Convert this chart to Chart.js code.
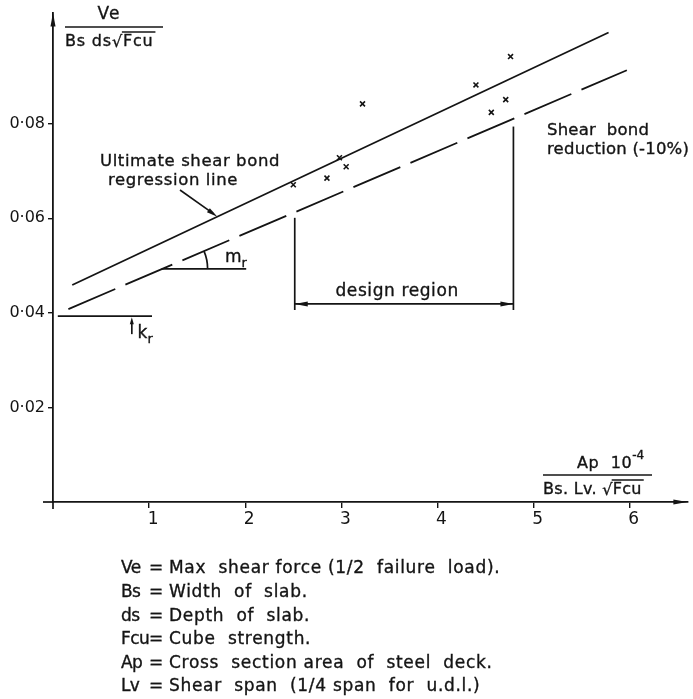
<!DOCTYPE html>
<html>
<head>
<meta charset="utf-8">
<script src="https://cdn.jsdelivr.net/npm/chart.js@4.4.1/dist/chart.umd.min.js"></script>
<style>
  html, body { margin: 0; background: #fff; }
</style>
</head>
<body>
<canvas id="shearbond" width="693" height="699"></canvas>
<script>
// test results (x = Ap/(Bs.Lv.sqrt(Fcu)) * 1e-4, y = Ve/(Bs ds sqrt(Fcu)))
const testX = [2.50, 2.85, 2.98, 3.05, 3.22, 4.40, 4.56, 4.71, 4.76]
const testY = [0.0671, 0.0685, 0.0728, 0.0709, 0.0842, 0.0882, 0.0824, 0.0851, 0.0942]

// ultimate regression line and the -10% reduced line (end points)
const regressX = [0.20, 5.78]
const regressY = [0.0459, 0.0993]
const reducedX = [0.16, 5.97]
const reducedY = [0.0408, 0.0913]

const xTicks = [1, 2, 3, 4, 5, 6]
const yTicks = [0.02, 0.04, 0.06, 0.08]

const designFrom = 2.515
const designTo = 4.79
const krValue = 0.0393

const legendKeys = ['Ve', 'Bs', 'ds', 'Fcu', 'Ap', 'Lv']
const legendText = [
  'Max  shear force (1/2  failure  load).',
  'Width  of  slab.',
  'Depth  of  slab.',
  'Cube  strength.',
  'Cross  section area  of  steel  deck.',
  'Shear  span  (1/4 span  for  u.d.l.)'
]

const FONT = '"DejaVu Sans", sans-serif'
const INK = '#141414'

function pts(xs, ys) {
  return xs.map((x, i) => ({ x: x, y: ys[i] }))
}

function arrowHead(ctx, x, y, ang, len, half) {
  ctx.save()
  ctx.translate(x, y)
  ctx.rotate(ang)
  ctx.beginPath()
  ctx.moveTo(0, 0)
  ctx.lineTo(-len, -half)
  ctx.lineTo(-len, half)
  ctx.closePath()
  ctx.fill()
  ctx.restore()
}

function line(ctx, x1, y1, x2, y2) {
  ctx.beginPath()
  ctx.moveTo(x1, y1)
  ctx.lineTo(x2, y2)
  ctx.stroke()
}

function setFont(ctx, size, spacing) {
  ctx.font = size + 'px ' + FONT
  ctx.letterSpacing = spacing + 'px'
}

// slightly heavier text, like the pen lettering
function txt(ctx, s, x, y) {
  let lw = ctx.lineWidth
  ctx.lineWidth = 0.35
  ctx.fillText(s, x, y)
  ctx.strokeText(s, x, y)
  ctx.lineWidth = lw
}

// text with a subscript, e.g. m_r
function subText(ctx, main, sub, x, y) {
  setFont(ctx, 17, 0)
  ctx.textAlign = 'left'
  ctx.textBaseline = 'middle'
  txt(ctx, main, x, y)
  let w = ctx.measureText(main).width
  setFont(ctx, 13, 0)
  txt(ctx, sub, x + w, y + 6)
}

// text followed by a square root over the second part
function rootText(ctx, before, under, x, y, spacing) {
  setFont(ctx, 16, spacing)
  ctx.textAlign = 'left'
  ctx.textBaseline = 'middle'
  txt(ctx, before, x, y)
  let x1 = x + ctx.measureText(before).width
  txt(ctx, '\u221A', x1, y + 1)
  let x2 = x1 + ctx.measureText('\u221A').width
  txt(ctx, under, x2, y)
  let x3 = x2 + ctx.measureText(under).width
  ctx.lineWidth = 1.4
  line(ctx, x2 - 1, y - 10, x3 + 2, y - 10)
  return x3
}

const drawings = {
  id: 'drawings',
  afterDatasetsDraw(chart) {
    const ctx = chart.ctx
    const xs = chart.scales.x
    const ys = chart.scales.y
    const X = v => xs.getPixelForValue(v)
    const Y = v => ys.getPixelForValue(v)
    const area = chart.chartArea
    ctx.save()
    ctx.strokeStyle = INK
    ctx.fillStyle = INK
    ctx.lineWidth = 1.7

    // axis stubs and arrows
    line(ctx, area.left - 10, area.bottom, area.left, area.bottom)
    line(ctx, area.left, area.bottom, area.left, area.bottom + 7)
    arrowHead(ctx, area.right, area.bottom, 0, 14, 2.5)
    arrowHead(ctx, area.left, area.top, -Math.PI / 2, 14, 2.5)

    // k_r
    ctx.lineWidth = 1.7
    line(ctx, X(0.05), Y(krValue), X(1.03), Y(krValue))
    line(ctx, X(0.82), Y(0.0355), X(0.82), Y(krValue) + 6)
    arrowHead(ctx, X(0.82), Y(krValue) + 1, -Math.PI / 2, 7, 2)
    subText(ctx, 'k', 'r', X(0.88), Y(0.0356))

    // m_r angle
    let cx = X(1.13), cy = Y(0.0493)
    ctx.lineWidth = 1.7
    line(ctx, cx, cy, X(2.01), cy)
    let slope = Math.atan2(Y(reducedY[1]) - Y(reducedY[0]), X(reducedX[1]) - X(reducedX[0]))
    ctx.beginPath()
    ctx.arc(cx, cy, 46, slope, 0)
    ctx.stroke()
    subText(ctx, 'm', 'r', X(1.79), Y(0.0516))

    // regression label and pointer
    setFont(ctx, 16.5, 0.6)
    ctx.textAlign = 'left'
    ctx.textBaseline = 'middle'
    txt(ctx, 'Ultimate shear bond', 100, 162)
    txt(ctx, 'regression line', 108, 181)
    ctx.lineWidth = 1.6
    let ax = X(1.71), ay = regressY[0] + (1.71 - regressX[0]) * (regressY[1] - regressY[0]) / (regressX[1] - regressX[0])
    line(ctx, 180, 190, ax - 4, Y(ay) - 3)
    arrowHead(ctx, ax, Y(ay), Math.atan2(Y(ay) - 190, ax - 180), 11, 2.5)

    // design region
    ctx.lineWidth = 1.7
    line(ctx, X(designFrom), Y(0.0601), X(designFrom), Y(0.0406))
    line(ctx, X(designTo), Y(0.0794), X(designTo), Y(0.0406))
    let dy = Y(0.0419)
    line(ctx, X(designFrom), dy, X(designTo), dy)
    arrowHead(ctx, X(designFrom), dy, Math.PI, 13, 2.5)
    arrowHead(ctx, X(designTo), dy, 0, 13, 2.5)
    setFont(ctx, 17, 0.6)
    ctx.textAlign = 'center'
    txt(ctx, 'design region', X(3.58), Y(0.0444))

    // reduced line label
    setFont(ctx, 16.5, 0.2)
    ctx.textAlign = 'left'
    txt(ctx, 'Shear  bond', 547, 131)
    txt(ctx, 'reduction (-10%)', 547, 150)

    // y title
    setFont(ctx, 17, 1)
    ctx.textAlign = 'center'
    txt(ctx, 'Ve', 109, 15)
    ctx.lineWidth = 1.6
    line(ctx, 65, 27, 163, 27)
    rootText(ctx, 'Bs ds', 'Fcu', 65, 42, 0.8)

    // x title
    setFont(ctx, 16, 0.6)
    ctx.textAlign = 'left'
    txt(ctx, 'Ap  10', 577, 464)
    let sx = 577 + ctx.measureText('Ap  10').width
    setFont(ctx, 12, 0)
    txt(ctx, '-4', sx, 456)
    ctx.lineWidth = 1.6
    line(ctx, 543, 475, 652, 475)
    rootText(ctx, 'Bs. Lv. ', 'Fcu', 543, 490, 0.3)

    // notation list
    ctx.textAlign = 'left'
    legendKeys.forEach((k, i) => {
      let ty = 569 + i * 23.6
      setFont(ctx, 17, -0.6)
      txt(ctx, k, 121, ty)
      setFont(ctx, 17, 0.7)
      txt(ctx, '=', 149, ty)
      txt(ctx, legendText[i], 169, ty)
    })
    ctx.restore()
  }
}

const shearChart = new Chart(document.getElementById('shearbond'), {
  type: 'scatter',
  data: {
    datasets: [
      {
        label: 'Ultimate shear bond regression line',
        data: pts(regressX, regressY),
        showLine: true,
        borderColor: INK,
        borderWidth: 1.8,
        pointRadius: 0
      },
      {
        label: 'Shear bond reduction (-10%)',
        data: pts(reducedX, reducedY),
        showLine: true,
        borderColor: INK,
        borderWidth: 1.8,
        borderDash: [51, 11],
        pointRadius: 0
      },
      {
        label: 'Tests',
        data: pts(testX, testY),
        pointStyle: 'crossRot',
        pointRadius: 3.5,
        borderColor: INK,
        borderWidth: 1.6
      }
    ]
  },
  options: {
    responsive: false,
    animation: false,
    devicePixelRatio: 1,
    layout: { padding: { top: 8, right: 3, left: 0, bottom: 0 } },
    plugins: { legend: { display: false }, tooltip: { enabled: false } },
    scales: {
      x: {
        type: 'linear',
        min: 0,
        max: 6.6,
        afterBuildTicks: s => { s.ticks = xTicks.map(v => ({ value: v })) },
        afterFit: s => { s.height = 197 },
        border: { color: INK, width: 1.8 },
        grid: { drawOnChartArea: false, color: INK, lineWidth: 1.4, tickLength: 6 },
        ticks: {
          color: INK,
          font: { family: FONT, size: 17 },
          padding: 1,
          labelOffset: 4,
          maxRotation: 0,
          callback: v => String(v)
        }
      },
      y: {
        type: 'linear',
        min: 0,
        max: 0.1035,
        afterBuildTicks: s => { s.ticks = yTicks.map(v => ({ value: v })) },
        afterFit: s => { s.width = 53 },
        border: { color: INK, width: 1.8 },
        grid: { drawOnChartArea: false, color: INK, lineWidth: 1.4, tickLength: 5 },
        ticks: {
          color: INK,
          font: { family: FONT, size: 16 },
          padding: 3,
          callback: v => v.toFixed(2).replace('.', '\u00B7')
        }
      }
    }
  },
  plugins: [drawings]
})
</script>
</body>
</html>
